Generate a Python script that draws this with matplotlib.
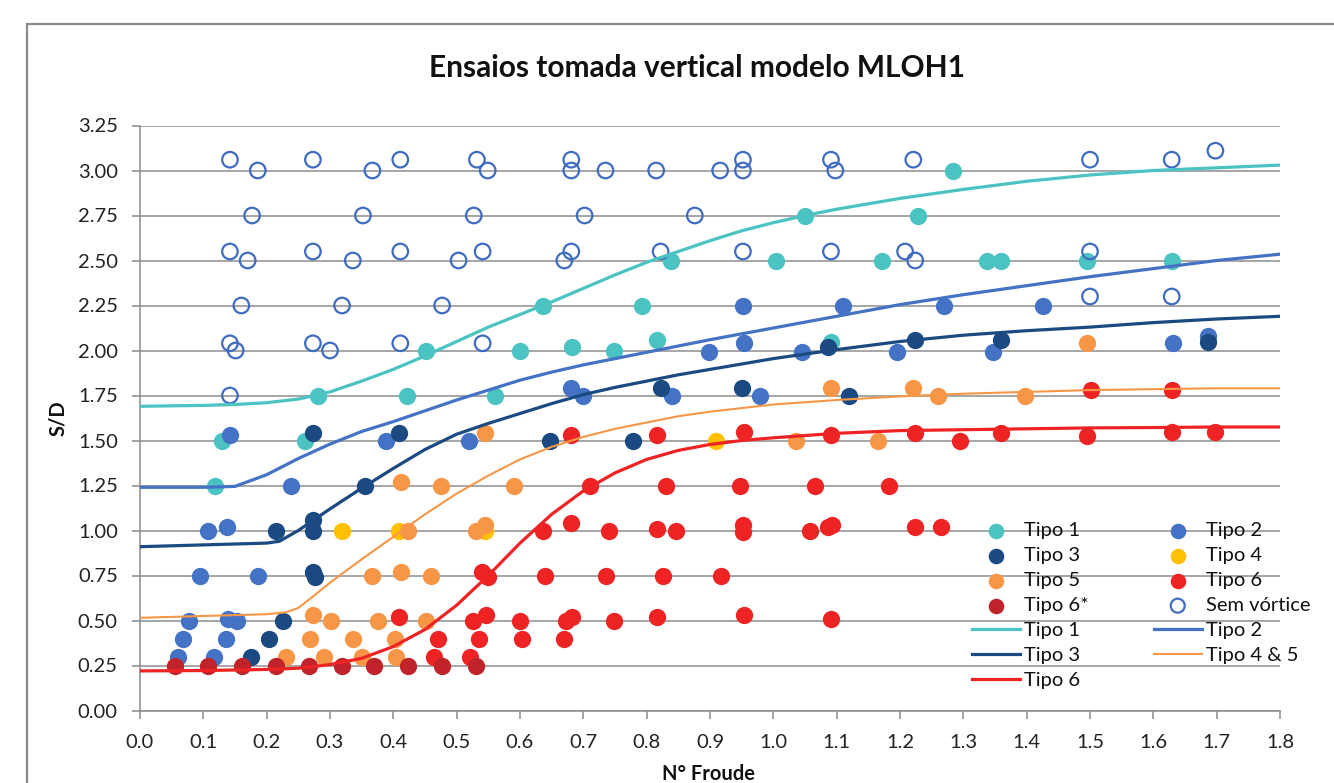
import matplotlib
matplotlib.use("Agg")
import matplotlib.pyplot as plt
from matplotlib.patches import Rectangle

plt.rcParams['font.family'] = ['Lato', 'DejaVu Sans']

# ---------------- data ----------------
sem_x = [0.142, 0.186, 0.273, 0.367, 0.411, 0.532, 0.549, 0.681, 0.681, 0.735, 0.815, 0.916,
         0.952, 0.952, 1.091, 1.098, 1.221, 1.500, 1.629, 1.698,
         0.177, 0.352, 0.527, 0.702, 0.876,
         0.142, 0.170, 0.273, 0.336, 0.411, 0.503, 0.541, 0.681, 0.670, 0.822, 0.952, 1.091,
         1.208, 1.224, 1.500,
         0.160, 0.319, 0.477, 1.500, 1.629,
         0.142, 0.151, 0.273, 0.300, 0.411, 0.541,
         0.142]
sem_y = [3.06, 3.00, 3.06, 3.00, 3.06, 3.06, 3.00, 3.06, 3.00, 3.00, 3.00, 3.00,
         3.06, 3.00, 3.06, 3.00, 3.06, 3.06, 3.06, 3.11,
         2.75, 2.75, 2.75, 2.75, 2.75,
         2.55, 2.50, 2.55, 2.50, 2.55, 2.50, 2.55, 2.55, 2.50, 2.55, 2.55, 2.55,
         2.55, 2.50, 2.55,
         2.25, 2.25, 2.25, 2.30, 2.30,
         2.04, 2.00, 2.04, 2.00, 2.04, 2.04,
         1.75]

t1_x = [0.119, 0.130, 0.261, 0.281, 0.421, 0.561, 0.451, 0.600, 0.637, 0.682, 0.749, 0.793,
        0.816, 0.838, 1.004, 1.050, 1.091, 1.171, 1.228, 1.283, 1.338, 1.360, 1.496, 1.630]
t1_y = [1.25, 1.50, 1.50, 1.75, 1.75, 1.75, 2.00, 2.00, 2.25, 2.02, 2.00, 2.25,
        2.06, 2.50, 2.50, 2.75, 2.05, 2.50, 2.75, 3.00, 2.50, 2.50, 2.50, 2.50]

t2_x = [0.060, 0.117, 0.068, 0.135, 0.078, 0.139, 0.153, 0.094, 0.187, 0.108, 0.138, 0.239,
        0.142, 0.389, 0.519, 0.681, 0.700, 0.840, 0.979, 0.898, 0.953, 1.046, 1.196, 0.952,
        1.110, 1.269, 1.426, 1.347, 1.631, 1.687]
t2_y = [0.30, 0.30, 0.40, 0.40, 0.50, 0.51, 0.50, 0.75, 0.75, 1.00, 1.02, 1.25,
        1.53, 1.50, 1.50, 1.79, 1.75, 1.75, 1.75, 1.99, 2.04, 1.99, 1.99, 2.25,
        2.25, 2.25, 2.25, 1.99, 2.04, 2.08]

t3_x = [0.176, 0.203, 0.226, 0.273, 0.276, 0.215, 0.273, 0.273, 0.356, 0.273, 0.409, 0.648,
        0.779, 0.822, 0.951, 1.119, 1.087, 1.224, 1.360, 1.687]
t3_y = [0.30, 0.40, 0.50, 0.77, 0.74, 1.00, 1.00, 1.06, 1.25, 1.54, 1.54, 1.50,
        1.50, 1.79, 1.79, 1.75, 2.02, 2.06, 2.06, 2.05]

t4_x = [0.319, 0.409, 0.544, 0.909]
t4_y = [1.00, 1.00, 1.00, 1.50]

t5_x = [0.231, 0.291, 0.350, 0.404, 0.269, 0.336, 0.402, 0.273, 0.301, 0.376, 0.451, 0.367,
        0.412, 0.459, 0.423, 0.530, 0.544, 0.412, 0.475, 0.591, 0.544, 1.036, 1.166, 1.091,
        1.221, 1.260, 1.398, 1.496]
t5_y = [0.30, 0.30, 0.30, 0.30, 0.40, 0.40, 0.40, 0.53, 0.50, 0.50, 0.50, 0.75,
        0.77, 0.75, 1.00, 1.00, 1.03, 1.27, 1.25, 1.25, 1.54, 1.50, 1.50, 1.79,
        1.79, 1.75, 1.75, 2.04]

t6_x = [0.464, 0.521, 0.470, 0.536, 0.603, 0.670, 0.409, 0.525, 0.546, 0.600, 0.673, 0.682,
        0.748, 0.816, 0.953, 1.091, 0.540, 0.549, 0.639, 0.735, 0.825, 0.917, 0.637, 0.681,
        0.741, 0.816, 0.846, 0.952, 0.952, 1.058, 1.087, 1.092, 1.224, 1.264, 0.711, 0.830,
        0.947, 1.065, 1.183, 0.681, 0.817, 0.953, 1.091, 1.224, 1.295, 1.359, 1.496, 1.630,
        1.698, 1.501, 1.630]
t6_y = [0.30, 0.30, 0.40, 0.40, 0.40, 0.40, 0.52, 0.50, 0.53, 0.50, 0.50, 0.52,
        0.50, 0.52, 0.53, 0.51, 0.77, 0.74, 0.75, 0.75, 0.75, 0.75, 1.00, 1.04,
        1.00, 1.01, 1.00, 1.03, 0.99, 1.00, 1.02, 1.03, 1.02, 1.02, 1.25, 1.25,
        1.25, 1.25, 1.25, 1.53, 1.53, 1.55, 1.53, 1.54, 1.50, 1.54, 1.525, 1.55,
        1.55, 1.78, 1.78]

t6s_x = [0.055, 0.108, 0.161, 0.214, 0.267, 0.319, 0.370, 0.423, 0.477, 0.531]
t6s_y = [0.25, 0.25, 0.25, 0.25, 0.25, 0.25, 0.25, 0.25, 0.25, 0.25]

# fitted curves
l1_x = [0.0, 0.1, 0.15, 0.2, 0.25, 0.3, 0.35, 0.4, 0.45, 0.5, 0.55, 0.6, 0.65, 0.7,
        0.75, 0.8, 0.85, 0.9, 0.95, 1.0, 1.05, 1.1, 1.2, 1.3, 1.4, 1.5, 1.6, 1.7, 1.8]
l1_y = [1.69, 1.695, 1.70, 1.71, 1.73, 1.77, 1.83, 1.895, 1.97, 2.05, 2.13, 2.20, 2.27, 2.345,
        2.42, 2.49, 2.55, 2.61, 2.665, 2.71, 2.75, 2.785, 2.845, 2.895, 2.94, 2.975, 3.00, 3.015, 3.03]

l2_x = [0.0, 0.1, 0.15, 0.2, 0.25, 0.3, 0.35, 0.4, 0.45, 0.5, 0.55, 0.6, 0.65, 0.7, 0.75, 0.8,
        0.9, 1.0, 1.1, 1.2, 1.3, 1.4, 1.5, 1.6, 1.7, 1.8]
l2_y = [1.24, 1.24, 1.245, 1.31, 1.40, 1.48, 1.55, 1.605, 1.665, 1.725, 1.78, 1.835, 1.88, 1.92, 1.955, 1.99,
        2.06, 2.125, 2.19, 2.255, 2.31, 2.36, 2.41, 2.455, 2.50, 2.535]

l3_x = [0.0, 0.1, 0.2, 0.22, 0.25, 0.3, 0.35, 0.4, 0.45, 0.5, 0.55, 0.6, 0.65, 0.7, 0.75, 0.8,
        0.85, 0.9, 0.95, 1.0, 1.1, 1.2, 1.3, 1.4, 1.5, 1.6, 1.7, 1.8]
l3_y = [0.91, 0.92, 0.93, 0.94, 1.00, 1.12, 1.235, 1.345, 1.45, 1.535, 1.595, 1.65, 1.705, 1.755, 1.795, 1.83,
        1.865, 1.895, 1.925, 1.955, 2.005, 2.05, 2.085, 2.11, 2.13, 2.155, 2.175, 2.19]

l45_x = [0.0, 0.1, 0.2, 0.23, 0.25, 0.27, 0.3, 0.35, 0.4, 0.45, 0.5, 0.55, 0.6, 0.65, 0.7, 0.75,
         0.8, 0.85, 0.9, 0.95, 1.0, 1.1, 1.2, 1.3, 1.4, 1.5, 1.6, 1.7, 1.8]
l45_y = [0.515, 0.525, 0.535, 0.545, 0.57, 0.625, 0.71, 0.84, 0.965, 1.09, 1.205, 1.305, 1.395, 1.465, 1.52, 1.565,
         1.60, 1.635, 1.66, 1.68, 1.70, 1.725, 1.745, 1.76, 1.77, 1.78, 1.785, 1.79, 1.79]

l6_x = [0.0, 0.1, 0.2, 0.25, 0.3, 0.35, 0.4, 0.45, 0.5, 0.55, 0.6, 0.65, 0.7, 0.75, 0.8, 0.85,
        0.9, 0.95, 1.0, 1.1, 1.2, 1.3, 1.4, 1.5, 1.6, 1.7, 1.8]
l6_y = [0.22, 0.222, 0.228, 0.235, 0.255, 0.29, 0.355, 0.45, 0.585, 0.75, 0.93, 1.09, 1.22, 1.32, 1.395, 1.445,
        1.478, 1.50, 1.515, 1.54, 1.555, 1.56, 1.565, 1.57, 1.572, 1.575, 1.575]

x_ticks = [0.0, 0.1, 0.2, 0.3, 0.4, 0.5, 0.6, 0.7, 0.8, 0.9, 1.0, 1.1, 1.2, 1.3, 1.4, 1.5, 1.6, 1.7, 1.8]
y_ticks = [0.00, 0.25, 0.50, 0.75, 1.00, 1.25, 1.50, 1.75, 2.00, 2.25, 2.50, 2.75, 3.00, 3.25]

# ---------------- colours ----------------
C1 = '#4BC3C3'
C2 = '#4472C4'
C3 = '#1B4A82'
C4 = '#FFC000'
C5 = '#F79646'
C6 = '#EE2424'
C6S = '#C0242A'
CSEM = '#3F6CC0'

W, H = 1334, 783
fig = plt.figure(figsize=(W / 100, H / 100), dpi=100)
ax = fig.add_axes([140 / W, 1 - 710.5 / H, (1280 - 140) / W, (710.5 - 125.5) / H])

# outer chart border
fig.patches.append(Rectangle((27 / W, -0.05), 1.1, 1 - 24 / H + 0.05, transform=fig.transFigure,
                             fill=False, edgecolor='#8a8a8a', linewidth=1.6))

S = 155
h1 = ax.scatter(t1_x, t1_y, s=S, color=C1, linewidths=0, label='Tipo 1', zorder=3)
h2 = ax.scatter(t2_x, t2_y, s=S, color=C2, linewidths=0, label='Tipo 2', zorder=3)
h3 = ax.scatter(t3_x, t3_y, s=S, color=C3, linewidths=0, label='Tipo 3', zorder=3)
h4 = ax.scatter(t4_x, t4_y, s=S, color=C4, linewidths=0, label='Tipo 4', zorder=3)
h5 = ax.scatter(t5_x, t5_y, s=S, color=C5, linewidths=0, label='Tipo 5', zorder=3)
h6 = ax.scatter(t6_x, t6_y, s=S, color=C6, linewidths=0, label='Tipo 6', zorder=3)
h6s = ax.scatter(t6s_x, t6s_y, s=S, color=C6S, linewidths=0, label='Tipo 6*', zorder=3)
hs = ax.scatter(sem_x, sem_y, s=125, facecolors='none', edgecolors=CSEM, linewidths=1.6,
                label='Sem vórtice', zorder=3)

k1, = ax.plot(l1_x, l1_y, color=C1, lw=2.3, label='Tipo 1', zorder=4, solid_joinstyle='round')
k2, = ax.plot(l2_x, l2_y, color=C2, lw=2.3, label='Tipo 2', zorder=4, solid_joinstyle='round')
k3, = ax.plot(l3_x, l3_y, color=C3, lw=2.3, label='Tipo 3', zorder=4, solid_joinstyle='round')
k45, = ax.plot(l45_x, l45_y, color=C5, lw=1.5, label='Tipo 4 & 5', zorder=4, solid_joinstyle='round')
k6, = ax.plot(l6_x, l6_y, color=C6, lw=2.3, label='Tipo 6', zorder=4, solid_joinstyle='round')

ax.set_xlim(0, 1.8)
ax.set_ylim(0, 3.25)
ax.set_xticks(x_ticks)
ax.set_xticklabels([f'{v:.1f}' for v in x_ticks])
ax.set_yticks(y_ticks)
ax.set_yticklabels([f'{v:.2f}' for v in y_ticks])
ax.tick_params(axis='both', labelsize=14.5, colors='#8a8a8a', labelcolor='#222222',
               length=6, width=1.1, direction='out')
ax.tick_params(axis='x', pad=11)
ax.tick_params(axis='y', pad=10)
ax.grid(axis='y', color='#8e8e8e', lw=1.1)
ax.set_axisbelow(True)
for side in ('top', 'right'):
    ax.spines[side].set_visible(False)
for side in ('left', 'bottom'):
    ax.spines[side].set_color('#8a8a8a')
    ax.spines[side].set_linewidth(1.1)

fig.text(697 / W, 1 - 68 / H, 'Ensaios tomada vertical modelo MLOH1', ha='center', va='center',
         fontsize=21.5, fontweight='bold', color='#111111')
fig.text(58 / W, 1 - 418 / H, 'S/D', ha='center', va='center', rotation=90,
         fontsize=14.5, fontweight='bold', color='#111111')
fig.text(708 / W, 1 - 774 / H, 'N° Froude', ha='center', va='center',
         fontsize=14.5, fontweight='bold', color='#111111')

handles = [h1, h3, h5, h6s, k1, k3, k6, h2, h4, h6, hs, k2, k45]
leg = ax.legend(handles=handles, labels=[h.get_label() for h in handles], ncol=2,
                loc='upper left', bbox_to_anchor=(972 / W, 1 - 522 / H),
                bbox_transform=fig.transFigure, frameon=False, fontsize=14.5,
                handlelength=2.4, handletextpad=0.2, columnspacing=3.2,
                labelspacing=0.39, borderpad=0, borderaxespad=0, markerscale=0.9)
for t in leg.get_texts():
    t.set_color('#111111')

fig.savefig('out.png', dpi=100)
